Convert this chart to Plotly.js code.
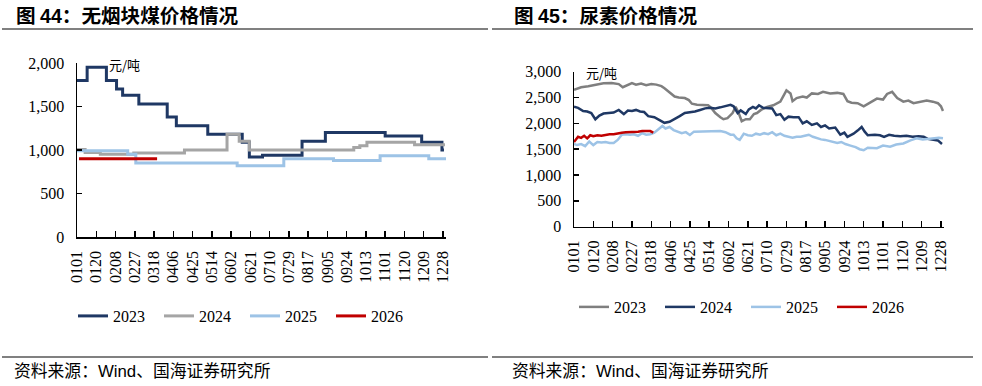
<!DOCTYPE html>
<html><head><meta charset="utf-8">
<script src="https://cdn.plot.ly/plotly-3.0.1.min.js"></script>
<style>html,body{margin:0;padding:0;background:#fff;}#chart{width:982px;height:386px;}</style>
</head><body><div id="chart"></div>
<script>
// ---------- tick labels (MMDD) ----------
const tickLabels = ['0101','0120','0208','0227','0318','0406','0425','0514','0602','0621','0710','0729','0817','0905','0924','1013','1101','1120','1209','1228'];
const years = ['2023','2024','2025','2026'];

// ---------- 图44 无烟块煤 (day of year, 元/吨), step changes ----------
const coalDays2023 = [1,11,30,40,46,62,90,99,130,164,171,184,223,246,305,341,361,363];
const coalPrice2023 = [1800,1950,1800,1700,1630,1530,1380,1280,1180,1090,920,940,1100,1200,1160,1090,1000,1000];
const coalDays2024 = [1,9,24,57,107,149,161,171,274,280,287,334,364];
const coalPrice2024 = [1005,970,950,965,1000,1180,1100,1000,1030,1050,1090,1060,1060];
const coalDays2025 = [1,51,59,159,205,254,300,348,365];
const coalPrice2025 = [990,950,850,820,900,880,935,900,900];
const coalDays2026 = [3,80];
const coalPrice2026 = [900,900];

// ---------- 图45 尿素 (day of year, 元/吨) ----------
const ureaDays2023 = [1,8,15,22,30,38,45,49,53,58,62,67,72,77,82,87,90,95,100,104,110,114,117,122,128,133,136,140,145,148,152,157,160,163,166,170,174,178,181,185,191,197,204,207,210,214,216,220,226,230,235,241,246,253,260,266,270,274,280,286,292,299,305,309,314,319,325,330,335,341,348,354,359,362,364];
const ureaPrice2023 = [2650,2700,2720,2750,2775,2780,2760,2700,2740,2780,2750,2770,2740,2760,2750,2720,2680,2600,2520,2500,2490,2450,2380,2360,2360,2350,2300,2200,2120,2080,2100,2200,2320,2200,2040,2080,2080,2180,2200,2260,2320,2350,2420,2520,2640,2580,2430,2490,2520,2500,2580,2570,2610,2580,2590,2570,2430,2400,2390,2330,2400,2480,2460,2570,2610,2490,2420,2440,2390,2410,2440,2420,2390,2330,2240];
const ureaDays2024 = [1,5,10,14,18,22,26,30,35,40,45,50,54,58,62,66,70,74,80,85,90,95,100,105,110,115,120,125,130,135,140,145,150,155,158,162,165,170,173,177,180,183,187,192,196,200,204,208,212,217,222,226,230,235,240,244,248,252,258,263,267,270,276,280,284,287,290,297,302,306,311,316,322,328,334,340,345,349,354,359,363];
const ureaPrice2024 = [2320,2300,2240,2230,2200,2080,2150,2190,2200,2210,2260,2180,2250,2240,2260,2230,2220,2140,2120,2060,2010,2030,2080,2140,2200,2210,2230,2260,2290,2300,2290,2310,2340,2360,2330,2200,2250,2180,2270,2320,2290,2350,2300,2290,2290,2160,2180,2070,2130,2120,2120,2000,2040,1970,2000,1930,1960,1900,1920,1780,1820,1740,1800,1860,1930,1840,1770,1780,1770,1740,1780,1760,1750,1760,1740,1750,1740,1700,1680,1670,1600];
const ureaDays2025 = [1,4,8,12,16,20,24,28,32,36,40,44,48,52,56,60,64,68,72,76,80,84,88,91,95,99,103,107,111,115,119,123,127,131,135,140,145,150,155,158,161,164,168,172,176,180,184,188,192,196,200,204,208,212,216,220,224,228,232,236,240,244,248,252,256,260,264,268,273,278,282,286,290,294,299,305,312,318,325,332,338,344,350,356,360,364];
const ureaPrice2025 = [1600,1580,1600,1560,1650,1580,1640,1630,1640,1620,1620,1680,1780,1790,1780,1790,1760,1810,1780,1790,1820,1880,1950,1900,1930,1870,1840,1810,1830,1775,1840,1840,1850,1850,1850,1850,1850,1830,1780,1780,1710,1680,1800,1770,1760,1800,1780,1810,1790,1830,1770,1800,1760,1740,1720,1740,1740,1760,1780,1740,1710,1690,1680,1660,1645,1620,1640,1600,1570,1540,1500,1480,1530,1520,1520,1570,1550,1590,1610,1670,1710,1690,1700,1710,1720,1710];
const ureaDays2026 = [1,3,5,8,11,14,17,20,24,28,32,36,40,44,48,52,56,60,64,68,72,76,79];
const ureaPrice2026 = [1640,1700,1740,1720,1760,1710,1770,1750,1770,1760,1780,1790,1790,1810,1820,1830,1830,1840,1840,1850,1850,1850,1820];

// ---------- helpers ----------
const W = 982, H = 386;
const px = x => x / W, py = y => 1 - y / H;
const cum = [0,31,59,90,120,151,181,212,243,273,304,334];
const doy = s => cum[+s.slice(0,2) - 1] + (+s.slice(2));
const tickVals = tickLabels.map(doy);

const coalColors = ['#1F3864','#A5A5A5','#9DC3E6','#C00000'];
const ureaColors = ['#7F7F7F','#1F3864','#9DC3E6','#C00000'];
const coalX = [coalDays2023, coalDays2024, coalDays2025, coalDays2026];
const coalY = [coalPrice2023, coalPrice2024, coalPrice2025, coalPrice2026];
const ureaX = [ureaDays2023, ureaDays2024, ureaDays2025, ureaDays2026];
const ureaY = [ureaPrice2023, ureaPrice2024, ureaPrice2025, ureaPrice2026];

const traces = [];
years.forEach((yr, i) => {
  traces.push({type:'scatter', mode:'lines', x:coalX[i], y:coalY[i], name:yr,
    line:{color:coalColors[i], width:3, shape:'hv'}, xaxis:'x', yaxis:'y', legend:'legend', hoverinfo:'skip'});
});
years.forEach((yr, i) => {
  traces.push({type:'scatter', mode:'lines', x:ureaX[i], y:ureaY[i], name:yr,
    line:{color:ureaColors[i], width:2.5}, xaxis:'x2', yaxis:'y2', legend:'legend2', hoverinfo:'skip'});
});

const tickFont = {family:'Liberation Serif', size:16, color:'#000'};
const xBase = {range:[1,365], tickmode:'array', tickvals:tickVals, ticktext:tickLabels, tickangle:-90,
  ticks:'inside', ticklen:6, tickwidth:1.5, tickcolor:'#000', showline:true, linecolor:'#000', linewidth:1.5,
  showgrid:false, zeroline:false, tickfont:tickFont, ticklabelstandoff:6, fixedrange:true};
const yBase = {ticks:'inside', ticklen:5, tickwidth:1.5, tickcolor:'#000', showline:true, linecolor:'#000', linewidth:1.5,
  showgrid:false, zeroline:false, tickfont:tickFont, tickformat:',d', dtick:500, tick0:0, ticklabelstandoff:8, fixedrange:true};

const legBase = {orientation:'h', xanchor:'left', yanchor:'middle', font:tickFont, bgcolor:'rgba(0,0,0,0)',
  entrywidth:41, entrywidthmode:'pixels', tracegroupgap:0, itemclick:false, itemdoubleclick:false};

const cjk = 'Noto Sans CJK SC, sans-serif';
const titleFont = {family:cjk, size:19.6, color:'#000'};
const srcFont = {family:cjk, size:16.8, color:'#000'};
const unitFont = {family:cjk, size:13, color:'#000'};

const layout = {
  width:W, height:H, margin:{l:0,r:0,t:0,b:0}, paper_bgcolor:'#fff', plot_bgcolor:'#fff', showlegend:true,
  xaxis: Object.assign({}, xBase, {domain:[px(77), px(446)], anchor:'y'}),
  yaxis: Object.assign({}, yBase, {domain:[py(237), py(63)], range:[0,2000], anchor:'x'}),
  xaxis2: Object.assign({}, xBase, {domain:[px(574), px(944)], anchor:'y2'}),
  yaxis2: Object.assign({}, yBase, {domain:[py(226.7), py(71.7)], range:[0,3000], anchor:'x2'}),
  legend: Object.assign({}, legBase, {x:px(73), y:py(316)}),
  legend2: Object.assign({}, legBase, {x:px(574), y:py(307)}),
  shapes: [
    {type:'line', xref:'paper', yref:'paper', x0:px(2), x1:px(488), y0:py(29), y1:py(29), line:{color:'#808080', width:2}},
    {type:'line', xref:'paper', yref:'paper', x0:px(492), x1:px(973), y0:py(29), y1:py(29), line:{color:'#808080', width:2}},
    {type:'line', xref:'paper', yref:'paper', x0:px(2), x1:px(488), y0:py(357), y1:py(357), line:{color:'#808080', width:2}},
    {type:'line', xref:'paper', yref:'paper', x0:px(492), x1:px(973), y0:py(357), y1:py(357), line:{color:'#808080', width:2}}
  ],
  annotations: [
    {xref:'paper', yref:'paper', x:px(14), y:py(14), xanchor:'left', yanchor:'middle', showarrow:false, font:titleFont,
     text:'<b>图 <span style="font-family:Liberation Sans, Arial, sans-serif">44</span>：无烟块煤价格情况</b>'},
    {xref:'paper', yref:'paper', x:px(512), y:py(14), xanchor:'left', yanchor:'middle', showarrow:false, font:titleFont,
     text:'<b>图 <span style="font-family:Liberation Sans, Arial, sans-serif">45</span>：尿素价格情况</b>'},
    {xref:'paper', yref:'paper', x:px(12), y:py(370), xanchor:'left', yanchor:'middle', showarrow:false, font:srcFont,
     text:'资料来源：<span style="font-family:Liberation Sans, Arial, sans-serif">Wind</span>、国海证券研究所'},
    {xref:'paper', yref:'paper', x:px(510), y:py(370), xanchor:'left', yanchor:'middle', showarrow:false, font:srcFont,
     text:'资料来源：<span style="font-family:Liberation Sans, Arial, sans-serif">Wind</span>、国海证券研究所'},
    {xref:'paper', yref:'paper', x:px(107), y:py(65), xanchor:'left', yanchor:'middle', showarrow:false, font:unitFont, text:'元/吨'},
    {xref:'paper', yref:'paper', x:px(584), y:py(72), xanchor:'left', yanchor:'middle', showarrow:false, font:unitFont, text:'元/吨'}
  ]
};

Plotly.newPlot('chart', traces, layout, {staticPlot:true, displayModeBar:false});
</script>
</body></html>
